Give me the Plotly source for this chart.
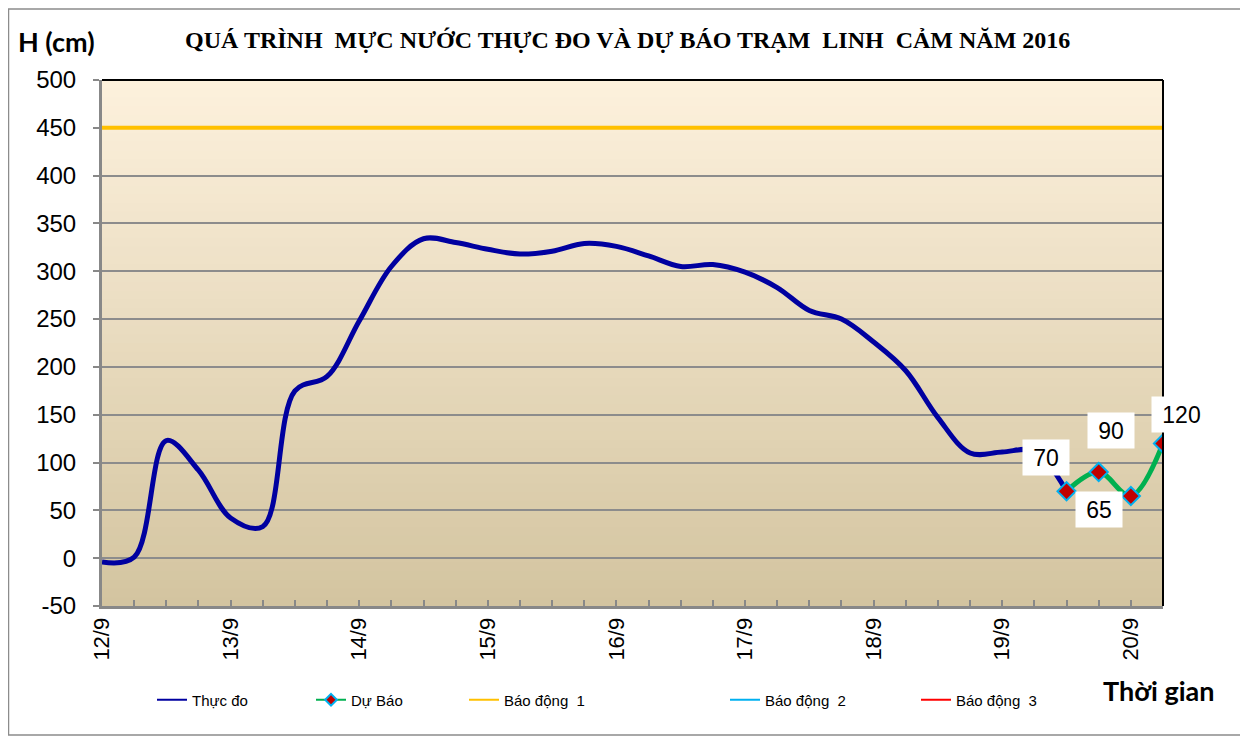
import plotly.graph_objects as go
import pandas as pd

# ---------------- data ----------------
start = "2016-09-12 00:00"
measured = [-4, 1, 123, 92, 42, 33, 175, 190, 248, 305, 334, 330, 323, 318, 321, 329,
            326, 316, 305, 307, 299, 283, 259, 250, 226, 196, 147, 110, 111, 112, 70]
forecast = [70, 90, 65, 120]
forecast_start_idx = 30
alarm_names = ["Báo động  1", "Báo động  2", "Báo động  3"]
alarm_levels = [450, 550, 650]
alarm_colors = ["#FFC000", "#00B0F0", "#FF0000"]
day_labels = ["12/9", "13/9", "14/9", "15/9", "16/9", "17/9", "18/9", "19/9", "20/9"]
y_tick_values = [-50, 0, 50, 100, 150, 200, 250, 300, 350, 400, 450, 500]
y_tick_labels = ["-50", "0", "50", "100", "150", "200", "250", "300", "350", "400", "450", "500"]
label_offsets = [(-21, 34), (12, 42), (-32, -13), (18, 29)]  # (dx, dy) px for forecast labels

times = pd.date_range(start, periods=len(measured) + len(forecast) - 1, freq="6h")
t_meas = times[:len(measured)]
t_fc = times[forecast_start_idx:forecast_start_idx + len(forecast)]
day_ticks = pd.date_range(start, periods=len(day_labels), freq="1D")

# ---------------- layout geometry (page px, page has 8px body margin) ----------------
OFF = 8
W, H = 1240, 728
L, R, T, B = 102 - OFF, 1163 - OFF, 80 - OFF, 606 - OFF
pw, ph = R - L, B - T

def px2x(px):  # page px -> paper coord
    return (px - OFF - L) / pw

def px2y(py):
    return (B - (py - OFF)) / ph

FONT = "Arial, Liberation Sans"

fig = go.Figure()

fig.add_trace(go.Scatter(x=t_meas, y=measured, name="Thực đo", mode="lines", showlegend=False,
                         line=dict(color="#0000A0", width=5, shape="spline", smoothing=1.0)))
fig.add_trace(go.Scatter(x=t_fc, y=forecast, name="Dự Báo", mode="lines+markers", showlegend=False,
                         line=dict(color="#00B050", width=5, shape="spline", smoothing=1.0),
                         marker=dict(symbol="diamond", size=14, color="#C00000",
                                     line=dict(color="#00B0F0", width=2))))
for nm, lv, col in zip(alarm_names, alarm_levels, alarm_colors):
    fig.add_trace(go.Scatter(x=[times[0], times[-1]], y=[lv, lv], name=nm, mode="lines",
                             showlegend=False, line=dict(color=col, width=4)))

# legend entries (thin symbols like the original), each in its own legend box
legend_items = [("Thực đo", "#0000A0", False, 192),
                ("Dự Báo", "#00B050", True, 351),
                (alarm_names[0], alarm_colors[0], False, 504),
                (alarm_names[1], alarm_colors[1], False, 765),
                (alarm_names[2], alarm_colors[2], False, 956)]
legend_layout = {}
for k, (nm, col, mk, text_x) in enumerate(legend_items):
    lname = "legend" if k == 0 else "legend%d" % (k + 1)
    fig.add_trace(go.Scatter(x=[None], y=[None], name=nm, legend=lname,
                             mode="lines+markers" if mk else "lines",
                             line=dict(color=col, width=2),
                             marker=dict(symbol="diamond", size=9, color="#C00000",
                                         line=dict(color="#00B0F0", width=2))))
    legend_layout[lname] = dict(x=px2x(text_x - 40), y=px2y(700), xanchor="left", yanchor="middle",
                                font=dict(family=FONT, size=15, color="black"),
                                bgcolor="rgba(0,0,0,0)")

# forecast value labels
for t, v, (dx, dy) in zip(t_fc, forecast, label_offsets):
    s = str(v)
    fig.add_annotation(x=t, y=v, text=s, showarrow=False, xshift=dx, yshift=dy,
                       bgcolor="white", borderpad=6, width=13 * len(s) + 8, height=23,
                       xanchor="center", yanchor="middle",
                       font=dict(family=FONT, size=23, color="black"))

shapes = []
N = 60
c_top = (253, 241, 221)
c_bot = (211, 196, 159)
for i in range(N):
    f = (i + 0.5) / N
    c = tuple(int(round(c_bot[k] + (c_top[k] - c_bot[k]) * f)) for k in range(3))
    shapes.append(dict(type="rect", xref="x domain", yref="y domain", x0=0, x1=1,
                       y0=i / N, y1=(i + 1) / N + 0.002, fillcolor="rgb(%d,%d,%d)" % c,
                       line=dict(width=0), layer="below"))
shapes.append(dict(type="line", xref="paper", yref="paper", x0=0, x1=1, y0=1, y1=1,
                   line=dict(color="black", width=2), layer="above"))
shapes.append(dict(type="line", xref="paper", yref="paper", x0=1, x1=1, y0=0, y1=1,
                   line=dict(color="black", width=2), layer="above"))
shapes.append(dict(type="rect", xref="paper", yref="paper", x0=px2x(8.5), x1=px2x(1245),
                   y0=px2y(735), y1=px2y(9), line=dict(color="#8C8C8C", width=1.5),
                   fillcolor="rgba(0,0,0,0)", layer="below"))

fig.add_annotation(xref="paper", yref="paper", x=px2x(627), y=px2y(40),
                   xanchor="center", yanchor="middle",
                   text="<b>QUÁ TRÌNH  MỰC NƯỚC THỰC ĐO VÀ DỰ BÁO TRẠM  LINH  CẢM NĂM 2016</b>",
                   showarrow=False, font=dict(family="Liberation Serif, Times New Roman", size=24, color="black"))
fig.add_annotation(xref="paper", yref="paper", x=px2x(56), y=px2y(42), text="<b>H (cm)</b>",
                   xanchor="center", yanchor="middle",
                   showarrow=False, font=dict(family="Lato, Open Sans", size=27, color="black"))
fig.add_annotation(xref="paper", yref="paper", x=px2x(1159), y=px2y(690), text="<b>Thời gian</b>",
                   xanchor="center", yanchor="middle",
                   showarrow=False, font=dict(family="Lato, Open Sans", size=27, color="black"))

fig.update_layout(
    width=W, height=H,
    margin=dict(l=L, r=W - R, t=T, b=H - B, autoexpand=False),
    paper_bgcolor="white", plot_bgcolor="#F0E6D0",
    shapes=shapes,
    showlegend=True,
    xaxis=dict(range=[times[0], times[-1]], tickvals=day_ticks, ticktext=day_labels,
               tickangle=-90, ticks="inside", ticklen=6, tickcolor="#888888", tickwidth=2,
               showgrid=False, showline=True, linecolor="#888888", linewidth=3,
               zeroline=False,
               minor=dict(ticks="inside", ticklen=6, tickcolor="#888888", tickwidth=2,
                          dtick=6 * 3600 * 1000, showgrid=False),
               tickfont=dict(family=FONT, size=22, color="black")),
    yaxis=dict(range=[-50, 500], tickvals=y_tick_values, ticktext=y_tick_labels,
               ticks="outside", ticklen=6,
               tickcolor="#888888", tickwidth=2, ticklabelstandoff=12,
               showgrid=True, gridcolor="#8C8C8C", gridwidth=2,
               showline=True, linecolor="#888888", linewidth=3, zeroline=False,
               tickfont=dict(family=FONT, size=24, color="black")),
    **legend_layout,
)

fig.write_html("out.html")
